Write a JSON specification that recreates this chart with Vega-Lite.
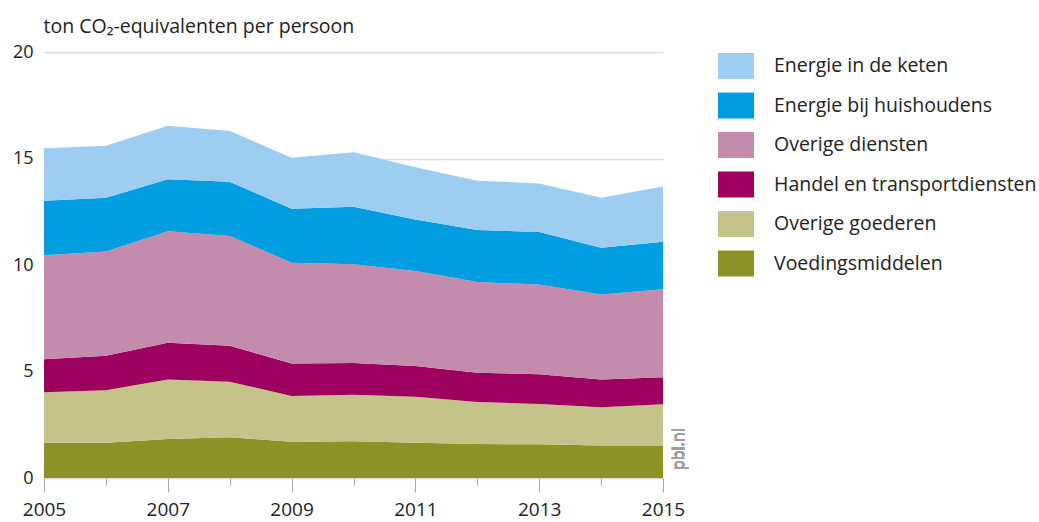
{
  "$schema": "https://vega.github.io/schema/vega-lite/v6.json",
  "width": 619,
  "height": 426,
  "autosize": {"type": "none"},
  "padding": {"left": 44, "top": 52, "right": 376, "bottom": 44},
  "background": "white",
  "config": {"font": "Open Sans", "view": {"stroke": null}},
  "data": {
    "values": [
      {"jaar": 2005, "categorie": "Voedingsmiddelen", "volgorde": 1, "waarde": 1.66},
      {"jaar": 2005, "categorie": "Overige goederen", "volgorde": 2, "waarde": 2.36},
      {"jaar": 2005, "categorie": "Handel en transportdiensten", "volgorde": 3, "waarde": 1.55},
      {"jaar": 2005, "categorie": "Overige diensten", "volgorde": 4, "waarde": 4.89},
      {"jaar": 2005, "categorie": "Energie bij huishoudens", "volgorde": 5, "waarde": 2.56},
      {"jaar": 2005, "categorie": "Energie in de keten", "volgorde": 6, "waarde": 2.46},
      {"jaar": 2006, "categorie": "Voedingsmiddelen", "volgorde": 1, "waarde": 1.66},
      {"jaar": 2006, "categorie": "Overige goederen", "volgorde": 2, "waarde": 2.46},
      {"jaar": 2006, "categorie": "Handel en transportdiensten", "volgorde": 3, "waarde": 1.62},
      {"jaar": 2006, "categorie": "Overige diensten", "volgorde": 4, "waarde": 4.89},
      {"jaar": 2006, "categorie": "Energie bij huishoudens", "volgorde": 5, "waarde": 2.53},
      {"jaar": 2006, "categorie": "Energie in de keten", "volgorde": 6, "waarde": 2.44},
      {"jaar": 2007, "categorie": "Voedingsmiddelen", "volgorde": 1, "waarde": 1.83},
      {"jaar": 2007, "categorie": "Overige goederen", "volgorde": 2, "waarde": 2.80},
      {"jaar": 2007, "categorie": "Handel en transportdiensten", "volgorde": 3, "waarde": 1.72},
      {"jaar": 2007, "categorie": "Overige diensten", "volgorde": 4, "waarde": 5.23},
      {"jaar": 2007, "categorie": "Energie bij huishoudens", "volgorde": 5, "waarde": 2.44},
      {"jaar": 2007, "categorie": "Energie in de keten", "volgorde": 6, "waarde": 2.52},
      {"jaar": 2008, "categorie": "Voedingsmiddelen", "volgorde": 1, "waarde": 1.91},
      {"jaar": 2008, "categorie": "Overige goederen", "volgorde": 2, "waarde": 2.61},
      {"jaar": 2008, "categorie": "Handel en transportdiensten", "volgorde": 3, "waarde": 1.69},
      {"jaar": 2008, "categorie": "Overige diensten", "volgorde": 4, "waarde": 5.15},
      {"jaar": 2008, "categorie": "Energie bij huishoudens", "volgorde": 5, "waarde": 2.55},
      {"jaar": 2008, "categorie": "Energie in de keten", "volgorde": 6, "waarde": 2.38},
      {"jaar": 2009, "categorie": "Voedingsmiddelen", "volgorde": 1, "waarde": 1.70},
      {"jaar": 2009, "categorie": "Overige goederen", "volgorde": 2, "waarde": 2.15},
      {"jaar": 2009, "categorie": "Handel en transportdiensten", "volgorde": 3, "waarde": 1.53},
      {"jaar": 2009, "categorie": "Overige diensten", "volgorde": 4, "waarde": 4.73},
      {"jaar": 2009, "categorie": "Energie bij huishoudens", "volgorde": 5, "waarde": 2.53},
      {"jaar": 2009, "categorie": "Energie in de keten", "volgorde": 6, "waarde": 2.40},
      {"jaar": 2010, "categorie": "Voedingsmiddelen", "volgorde": 1, "waarde": 1.72},
      {"jaar": 2010, "categorie": "Overige goederen", "volgorde": 2, "waarde": 2.19},
      {"jaar": 2010, "categorie": "Handel en transportdiensten", "volgorde": 3, "waarde": 1.49},
      {"jaar": 2010, "categorie": "Overige diensten", "volgorde": 4, "waarde": 4.63},
      {"jaar": 2010, "categorie": "Energie bij huishoudens", "volgorde": 5, "waarde": 2.71},
      {"jaar": 2010, "categorie": "Energie in de keten", "volgorde": 6, "waarde": 2.55},
      {"jaar": 2011, "categorie": "Voedingsmiddelen", "volgorde": 1, "waarde": 1.66},
      {"jaar": 2011, "categorie": "Overige goederen", "volgorde": 2, "waarde": 2.16},
      {"jaar": 2011, "categorie": "Handel en transportdiensten", "volgorde": 3, "waarde": 1.44},
      {"jaar": 2011, "categorie": "Overige diensten", "volgorde": 4, "waarde": 4.46},
      {"jaar": 2011, "categorie": "Energie bij huishoudens", "volgorde": 5, "waarde": 2.42},
      {"jaar": 2011, "categorie": "Energie in de keten", "volgorde": 6, "waarde": 2.45},
      {"jaar": 2012, "categorie": "Voedingsmiddelen", "volgorde": 1, "waarde": 1.60},
      {"jaar": 2012, "categorie": "Overige goederen", "volgorde": 2, "waarde": 1.97},
      {"jaar": 2012, "categorie": "Handel en transportdiensten", "volgorde": 3, "waarde": 1.37},
      {"jaar": 2012, "categorie": "Overige diensten", "volgorde": 4, "waarde": 4.26},
      {"jaar": 2012, "categorie": "Energie bij huishoudens", "volgorde": 5, "waarde": 2.44},
      {"jaar": 2012, "categorie": "Energie in de keten", "volgorde": 6, "waarde": 2.32},
      {"jaar": 2013, "categorie": "Voedingsmiddelen", "volgorde": 1, "waarde": 1.58},
      {"jaar": 2013, "categorie": "Overige goederen", "volgorde": 2, "waarde": 1.89},
      {"jaar": 2013, "categorie": "Handel en transportdiensten", "volgorde": 3, "waarde": 1.40},
      {"jaar": 2013, "categorie": "Overige diensten", "volgorde": 4, "waarde": 4.21},
      {"jaar": 2013, "categorie": "Energie bij huishoudens", "volgorde": 5, "waarde": 2.47},
      {"jaar": 2013, "categorie": "Energie in de keten", "volgorde": 6, "waarde": 2.28},
      {"jaar": 2014, "categorie": "Voedingsmiddelen", "volgorde": 1, "waarde": 1.52},
      {"jaar": 2014, "categorie": "Overige goederen", "volgorde": 2, "waarde": 1.80},
      {"jaar": 2014, "categorie": "Handel en transportdiensten", "volgorde": 3, "waarde": 1.31},
      {"jaar": 2014, "categorie": "Overige diensten", "volgorde": 4, "waarde": 3.99},
      {"jaar": 2014, "categorie": "Energie bij huishoudens", "volgorde": 5, "waarde": 2.19},
      {"jaar": 2014, "categorie": "Energie in de keten", "volgorde": 6, "waarde": 2.35},
      {"jaar": 2015, "categorie": "Voedingsmiddelen", "volgorde": 1, "waarde": 1.52},
      {"jaar": 2015, "categorie": "Overige goederen", "volgorde": 2, "waarde": 1.94},
      {"jaar": 2015, "categorie": "Handel en transportdiensten", "volgorde": 3, "waarde": 1.27},
      {"jaar": 2015, "categorie": "Overige diensten", "volgorde": 4, "waarde": 4.13},
      {"jaar": 2015, "categorie": "Energie bij huishoudens", "volgorde": 5, "waarde": 2.23},
      {"jaar": 2015, "categorie": "Energie in de keten", "volgorde": 6, "waarde": 2.59}
    ]
  },
  "layer": [
    {
      "mark": {"type": "area", "interpolate": "linear", "opacity": 1},
      "encoding": {
        "x": {
          "field": "jaar",
          "type": "quantitative",
          "scale": {"domain": [2005, 2015], "nice": false, "zero": false},
          "axis": {
            "values": [2005, 2006, 2007, 2008, 2009, 2010, 2011, 2012, 2013, 2014, 2015],
            "format": "d",
            "labelExpr": "datum.value % 2 == 1 ? datum.label : ''",
            "domain": false,
            "grid": false,
            "tickColor": "#aaaaaa",
            "tickWidth": 1,
            "tickSize": {"condition": {"test": "datum.value % 2 == 1", "value": 14}, "value": 7},
            "labelFontSize": 19,
            "labelColor": "#222222",
            "labelPadding": 8,
            "labelFlush": false,
            "labelOverlap": false,
            "title": null
          }
        },
        "y": {
          "field": "waarde",
          "type": "quantitative",
          "stack": "zero",
          "scale": {"domain": [0, 20], "nice": false},
          "axis": {
            "values": [0, 5, 10, 15, 20],
            "grid": true,
            "gridColor": "#dcdcdc",
            "gridWidth": 1.5,
            "domain": false,
            "ticks": false,
            "labelPadding": 11,
            "labelFontSize": 18,
            "labelColor": "#222222",
            "title": "ton CO₂-equivalenten per persoon",
            "titleAngle": 0,
            "titleAlign": "left",
            "titleBaseline": "alphabetic",
            "titleX": -1,
            "titleY": -20,
            "titleFontWeight": "normal",
            "titleFontSize": 19.5,
            "titleColor": "#222222"
          }
        },
        "color": {
          "field": "categorie",
          "type": "nominal",
          "scale": {
            "domain": ["Energie in de keten", "Energie bij huishoudens", "Overige diensten", "Handel en transportdiensten", "Overige goederen", "Voedingsmiddelen"],
            "range": ["#9dcdf1", "#009ee0", "#c38cac", "#9e005f", "#c3c38a", "#8c9225"]
          },
          "legend": {
            "orient": "none",
            "legendX": 674,
            "legendY": -4,
            "title": null,
            "padding": 0,
            "symbolType": "M-1,-0.72H1V0.72H-1Z",
            "symbolSize": 1296,
            "symbolStrokeWidth": 0,
            "symbolOpacity": 1,
            "labelFontSize": 19.5,
            "labelColor": "#222222",
            "labelOffset": 20,
            "rowPadding": 8.5,
            "labelLimit": 400
          }
        },
        "order": {"field": "volgorde", "type": "quantitative"}
      }
    },
    {
      "mark": {"type": "text", "text": "pbl.nl", "angle": 270, "align": "left", "baseline": "top", "fontSize": 16, "color": "#a0a0a0", "dx": 8, "dy": 8},
      "encoding": {"x": {"datum": 2015}, "y": {"datum": 0}}
    }
  ]
}
